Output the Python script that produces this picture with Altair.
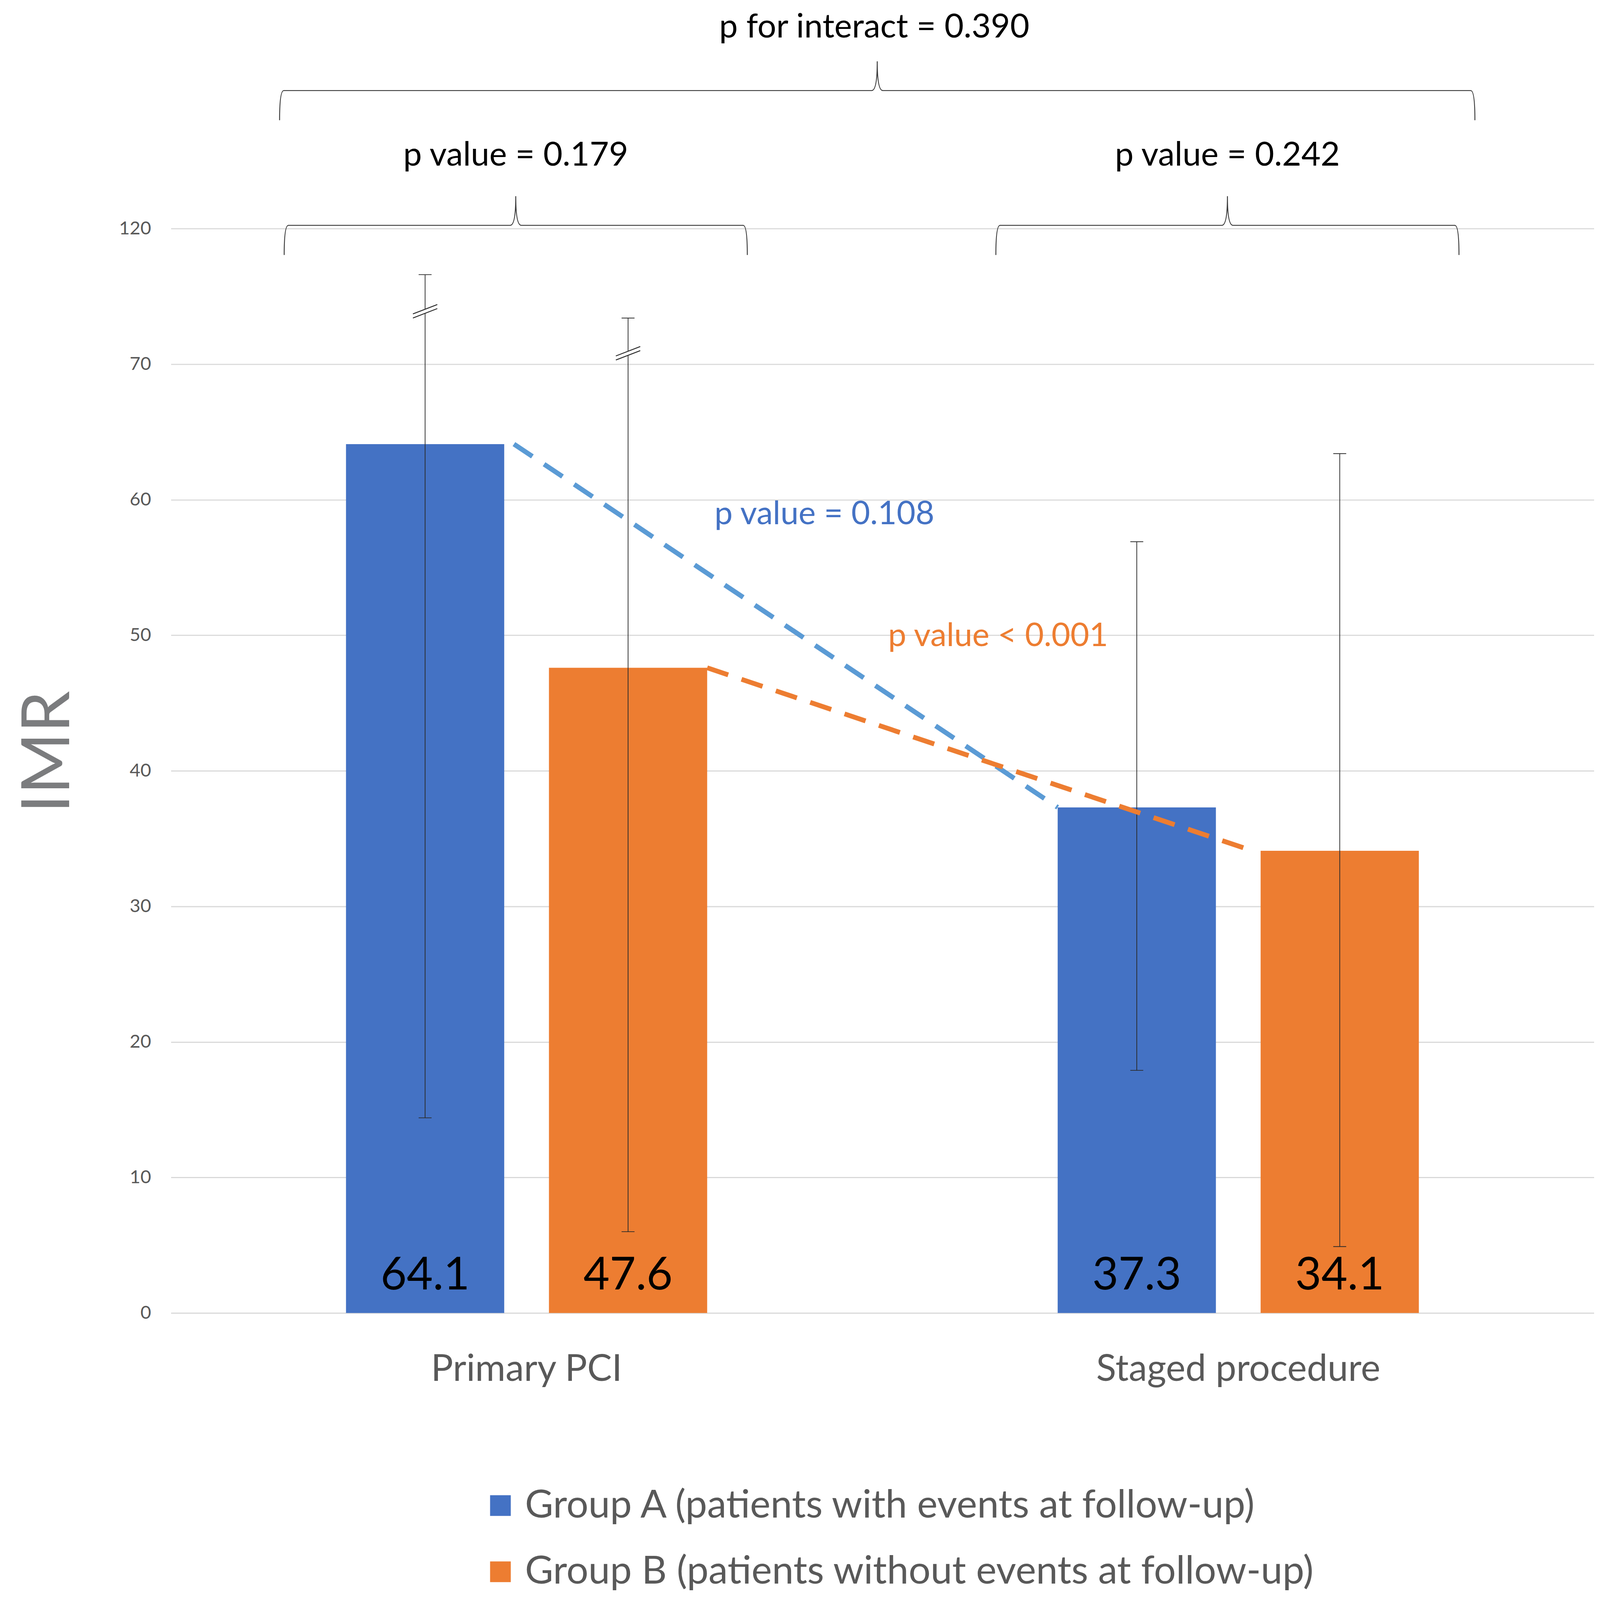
import json
import altair as alt
import pandas as pd

# ---------------- data ----------------
categories = ["Primary PCI", "Staged procedure"]
groups = ["Group A (patients with events at follow-up)",
          "Group B (patients without events at follow-up)"]
imr_group_a = [64.1, 37.3]
imr_group_b = [47.6, 34.1]
# error bars (values on the drawn, broken axis where the top is "120" at 80)
err_low_a = [14.4, 17.9]
err_high_a = [76.6, 56.9]
err_low_b = [6.0, 4.9]
err_high_b = [73.4, 63.4]
axis_break_a = [73.9, None]
axis_break_b = [70.8, None]
within_p_text = ["p value = 0.179", "p value = 0.242"]
between_p_text = ["p value = 0.108", "p value < 0.001"]
interaction_text = ["p for interact = 0.390"]
y_tick_values = [0, 10, 20, 30, 40, 50, 60, 70, 80]
y_tick_labels = ["0", "10", "20", "30", "40", "50", "60", "70", "120"]

# ---------------- styles / layout ----------------
FONT = "Lato"
BLUE = "#4472C4"
ORANGE = "#ED7D31"
LINE_BLUE = "#5B9BD5"
GRAY_TXT = "#595959"
ERR = "#2b2b2b"
W, H = 3850, 2934

BRACE_PATH = ("M-1,0.128 Q-1,0 -0.982,0 L-0.024,0 Q0,0 0,-0.126 "
              "Q0,0 0.024,0 L0.982,0 Q1,0 1,0.128")
TOP_BRACE_PATH = ("M-1,0.0495 Q-1,0 -0.993,0 L-0.0093,0 Q0,0 0,-0.0489 "
                  "Q0,0 0.0093,0 L0.993,0 Q1,0 1,0.0495")
BREAK_PATH = "M-1,0.219L1,-0.553M-1,0.553L1,-0.219"
MASK_PATH = "M-1,0.219L1,-0.553L1,-0.219L-1,0.553Z"

# ---------------- tables ----------------
rows = []
for i, c in enumerate(categories):
    rows.append({"category": c, "group": groups[0], "value": imr_group_a[i],
                 "lo": err_low_a[i], "hi": err_high_a[i], "brk": axis_break_a[i]})
    rows.append({"category": c, "group": groups[1], "value": imr_group_b[i],
                 "lo": err_low_b[i], "hi": err_high_b[i], "brk": axis_break_b[i]})
bars_df = pd.DataFrame(rows)
breaks_df = bars_df.dropna(subset=["brk"])

conn_a = pd.DataFrame({"from": [categories[0]], "to": [categories[1]],
                       "v1": [imr_group_a[0]], "v2": [imr_group_a[1]]})
conn_b = pd.DataFrame({"from": [categories[0]], "to": [categories[1]],
                       "v1": [imr_group_b[0]], "v2": [imr_group_b[1]]})
within_df = pd.DataFrame({"category": categories, "label": within_p_text})

x_scale = alt.Scale(domain=categories, paddingInner=0.4925, paddingOuter=0.246)
off_scale = alt.Scale(domain=groups, paddingInner=0.2204, paddingOuter=0)
y_scale = alt.Scale(domain=[0, 80], nice=False, zero=True)

label_expr = "%s[indexof(%s, datum.value)]" % (json.dumps(y_tick_labels), json.dumps(y_tick_values))

x_axis = alt.Axis(title=None, domain=False, ticks=False, labelFontSize=100,
                  labelColor=GRAY_TXT, labelFont=FONT, labelPadding=183,
                  labelAngle=0, labelAlign="center",
                  labelBaseline="alphabetic", labelLimit=2000, grid=False,
                  labelOverlap=False)
y_axis = alt.Axis(title="IMR", values=y_tick_values, labelExpr=label_expr,
                  domain=False, ticks=False, grid=True, gridColor="#d9d9d9",
                  gridWidth=3, labelFontSize=50, labelColor=GRAY_TXT,
                  labelFont=FONT, labelPadding=54,
                  titleFont=FONT, titleFontSize=180, titleColor="#7b7c7e",
                  titleFontWeight="normal", titleAngle=270, titleAlign="center",
                  titleBaseline="alphabetic", titleX=-276, titleY=1415.5)


def X(field="category", band=None):
    kw = {} if band is None else {"bandPosition": band}
    return alt.X(f"{field}:N", scale=x_scale, title=None, axis=x_axis, **kw)


def Y(field):
    return alt.Y(f"{field}:Q", scale=y_scale, axis=y_axis, title="IMR")


def YD(v):
    return alt.Y(datum=v, scale=y_scale, axis=y_axis, title="IMR")


XO = lambda: alt.XOffset("group:N", scale=off_scale)

base = alt.Chart(bars_df)

bars = base.mark_bar().encode(
    x=X(),
    xOffset=XO(),
    y=Y("value"),
    color=alt.Color("group:N", scale=alt.Scale(domain=groups, range=[BLUE, ORANGE]),
                    legend=alt.Legend(title=None, orient="none", legendX=839, legendY=3402.5,
                                      direction="vertical", symbolType="square",
                                      symbolSize=3136, symbolStrokeWidth=0,
                                      labelFont=FONT, labelFontSize=105,
                                      labelColor=GRAY_TXT, labelOffset=14,
                                      rowPadding=73, padding=0, labelLimit=4000)),
)

err_rule = base.mark_rule(color=ERR, strokeWidth=2).encode(
    x=X(), xOffset=XO(), y=Y("lo"), y2="hi:Q")
cap_lo = base.mark_tick(color=ERR, size=35, thickness=2, orient="horizontal", opacity=1).encode(
    x=X(), xOffset=XO(), y=Y("lo"))
cap_hi = base.mark_tick(color=ERR, size=35, thickness=2, orient="horizontal", opacity=1).encode(
    x=X(), xOffset=XO(), y=Y("hi"))

brk_mask = alt.Chart(breaks_df).mark_point(
    shape=MASK_PATH, filled=True, fill="white", strokeWidth=0, size=4356, opacity=1
).encode(x=X(), xOffset=XO(), y=Y("brk"))
brk_lines = alt.Chart(breaks_df).mark_point(
    shape=BREAK_PATH, filled=False, stroke=ERR, strokeWidth=2.5, size=4356, opacity=1
).encode(x=X(), xOffset=XO(), y=Y("brk"))

value_labels = base.mark_text(font=FONT, fontSize=122, color="black",
                              baseline="alphabetic", align="center", dy=-64).encode(
    x=X(), xOffset=XO(), y=YD(0), text=alt.Text("value:Q", format=".1f"))

conn_blue = alt.Chart(conn_a).mark_rule(color=LINE_BLUE, strokeWidth=13,
                                        strokeDash=[60, 38], strokeCap="butt").encode(
    x=X("from", 0.465), x2=alt.X2("to:N", bandPosition=0),
    y=Y("v1"), y2="v2:Q")
conn_orange = alt.Chart(conn_b).mark_rule(color=ORANGE, strokeWidth=13,
                                          strokeDash=[60, 38], strokeCap="butt").encode(
    x=X("from", 1), x2=alt.X2("to:N", bandPosition=0.539),
    y=Y("v1"), y2="v2:Q")

txt_blue = alt.Chart(pd.DataFrame({"label": [between_p_text[0]]})).mark_text(
    font=FONT, fontSize=88, color=BLUE, align="center", baseline="alphabetic").encode(
    x=alt.value(1768), y=YD(58.2), text="label:N")
txt_orange = alt.Chart(pd.DataFrame({"label": [between_p_text[1]]})).mark_text(
    font=FONT, fontSize=88, color=ORANGE, align="center", baseline="alphabetic").encode(
    x=alt.value(2238), y=YD(49.2), text="label:N")

braces = alt.Chart(within_df).mark_point(
    shape=BRACE_PATH, filled=False, stroke="#3a3a3a", strokeWidth=2.5,
    size=1253 ** 2, opacity=1).encode(
    x=X("category", 0.47), y=YD(80.24))
within_txt = alt.Chart(within_df).mark_text(
    font=FONT, fontSize=90, color="black", align="center", baseline="alphabetic").encode(
    x=X("category", 0.47), y=YD(84.64), text="label:N")

top_brace = alt.Chart(pd.DataFrame({"label": interaction_text})).mark_point(
    shape=TOP_BRACE_PATH, filled=False, stroke="#3a3a3a", strokeWidth=2.5,
    size=3234 ** 2, opacity=1).encode(x=alt.value(1911), y=YD(90.18))
top_txt = alt.Chart(pd.DataFrame({"label": interaction_text})).mark_text(
    font=FONT, fontSize=90, color="black", align="center", baseline="alphabetic").encode(
    x=alt.value(1903), y=YD(94.1), text="label:N")

chart = alt.layer(
    bars, err_rule, cap_lo, cap_hi, brk_mask, brk_lines, value_labels,
    conn_blue, conn_orange, txt_blue, txt_orange, braces, within_txt,
    top_brace, top_txt
).properties(
    width=W, height=H,
    autosize=alt.AutoSizeParams(type="none"),
    padding={"left": 454, "top": 491, "right": 8, "bottom": 760},
).configure_view(stroke=None).configure_text(font=FONT)

chart.save("out.html", embed_options={"renderer": "svg", "actions": False})
